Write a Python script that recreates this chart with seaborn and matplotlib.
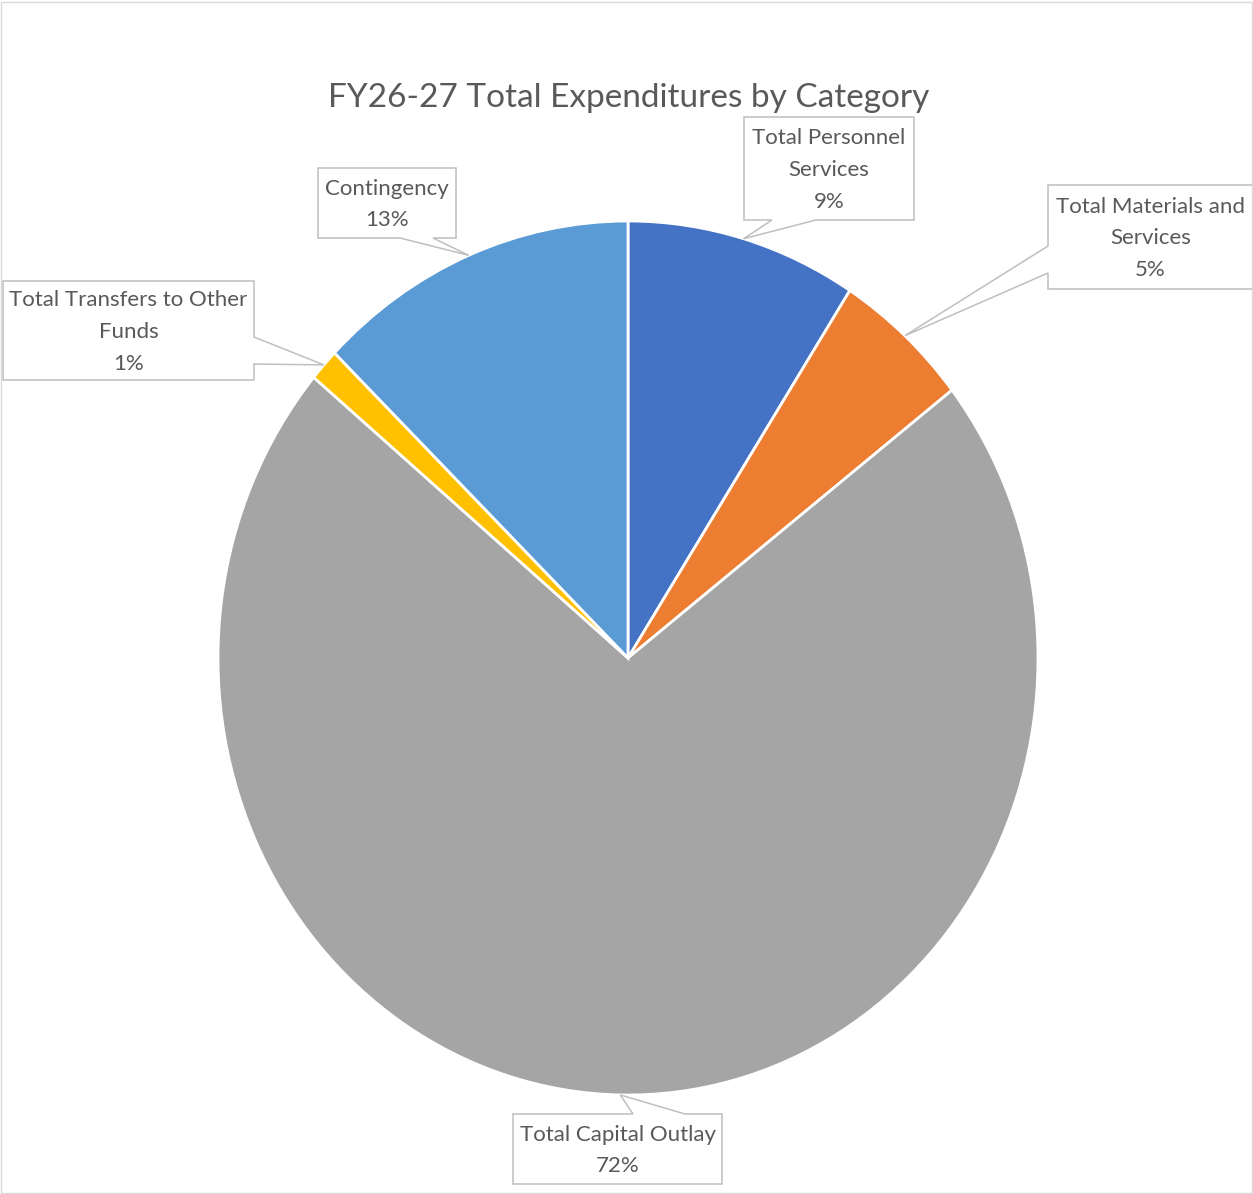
import matplotlib
matplotlib.use("Agg")
import matplotlib.pyplot as plt
from matplotlib.patches import Polygon, Rectangle
import numpy as np
import seaborn as sns

# Expenditure categories and their share of the FY26-27 budget (percent)
categories = [
    "Total Personnel Services",
    "Total Materials and Services",
    "Total Capital Outlay",
    "Total Transfers to Other Funds",
    "Contingency",
]
label_text = [
    "Total Personnel\nServices",
    "Total Materials and\nServices",
    "Total Capital Outlay",
    "Total Transfers to Other\nFunds",
    "Contingency",
]
shares = [9.1, 5.4, 71.6, 1.2, 12.7]
slice_colors = ["#4472C4", "#ED7D31", "#A5A5A5", "#FFC000", "#5B9BD5"]

W, H = 1253, 1194
TEXT = "#595959"
OUTLINE = "#BFBFBF"

sns.set_theme(style="white")
plt.rcParams["font.family"] = ["Lato", "DejaVu Sans"]

fig = plt.figure(figsize=(W / 100, H / 100), dpi=100)
fig.patch.set_facecolor("white")

# pie occupies a slightly tall ellipse, as in the exported sheet
ax = fig.add_axes([218 / W, 1 - 1095 / H, 820 / W, 874 / H])
wedges, _ = ax.pie(
    shares,
    colors=sns.color_palette(slice_colors),
    startangle=90,
    counterclock=False,
    radius=1,
    wedgeprops=dict(edgecolor="white", linewidth=2.0),
)
ax.set_aspect("auto")
ax.set_xlim(-1, 1)
ax.set_ylim(-1, 1)
ax.axis("off")

fig.text(629 / W, 1 - 98 / H, "FY26-27 Total Expenditures by Category",
         ha="center", va="center", fontsize=24, color=TEXT)

# callout boxes: (left, top, right, bottom) in pixels, side carrying the pointer,
# and where the pointer meets that side
callouts = [
    ((744, 117, 914, 220), "bottom", (772, 816)),
    ((1048, 185, 1258, 289), "left", (246, 273)),
    ((513, 1114, 722, 1184), "top", (633, 685)),
    ((3, 281, 254, 380), "right", (337, 364)),
    ((318, 168, 456, 238), "bottom", (400, 433)),
]


def to_fig(pt):
    return (pt[0] / W, 1 - pt[1] / H)


def callout_outline(box, side, base, tip):
    x0, y0, x1, y1 = box
    a, b = base
    if side == "top":
        pts = [(x0, y0), (a, y0), tip, (b, y0), (x1, y0), (x1, y1), (x0, y1)]
    elif side == "right":
        pts = [(x0, y0), (x1, y0), (x1, a), tip, (x1, b), (x1, y1), (x0, y1)]
    elif side == "bottom":
        pts = [(x0, y0), (x1, y0), (x1, y1), (b, y1), tip, (a, y1), (x0, y1)]
    else:
        pts = [(x0, y0), (x1, y0), (x1, y1), (x0, y1), (x0, b), tip, (x0, a)]
    return [to_fig(p) for p in pts]


for wedge, text, share, (box, side, base) in zip(wedges, label_text, shares, callouts):
    mid = np.deg2rad((wedge.theta1 + wedge.theta2) / 2)
    disp = ax.transData.transform((wedge.r * np.cos(mid), wedge.r * np.sin(mid)))
    tip = (disp[0], H - disp[1])
    poly = Polygon(callout_outline(box, side, base, tip), closed=True,
                   facecolor="white", edgecolor=OUTLINE, linewidth=1.1,
                   transform=fig.transFigure, zorder=5)
    fig.patches.append(poly)
    cx = (box[0] + min(box[2], W)) / 2 if box[2] > W else (box[0] + box[2]) / 2
    cy = (box[1] + box[3]) / 2 + 1.5
    fig.text(cx / W, 1 - cy / H, f"{text}\n{share:.0f}%", ha="center", va="center",
             fontsize=16, color=TEXT, linespacing=1.72, zorder=6)

# thin frame round the whole chart area
fig.patches.append(Rectangle((0.5 / W, 1.5 / H), 1 - 2 / W, 1 - 3 / H, fill=False,
                             edgecolor="#D9D9D9", linewidth=1.0,
                             transform=fig.transFigure, zorder=10))

fig.savefig("out.png", dpi=100, facecolor="white")
